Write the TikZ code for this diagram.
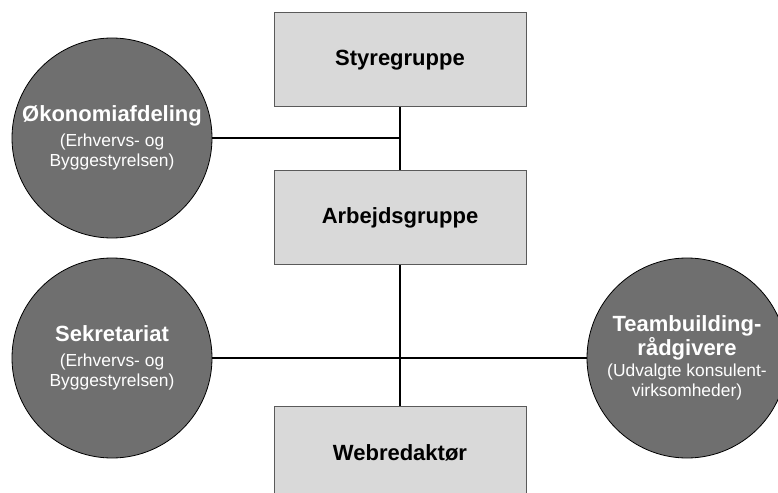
\documentclass[tikz,border=0pt]{standalone}
\usepackage{fontspec}
\setmainfont{Liberation Sans}
\definecolor{boxfill}{RGB}{217,217,217}
\definecolor{boxedge}{RGB}{90,90,90}
\definecolor{unitfill}{RGB}{111,111,111}
\newcommand{\unittitle}[1]{{\fontsize{22}{25}\selectfont\bfseries #1}}
\begin{document}
\begin{tikzpicture}[x=1pt,y=-1pt,
  groupbox/.style={draw=boxedge,line width=1pt,fill=boxfill,minimum width=252pt,minimum height=94pt,
    inner sep=0pt,font=\fontsize{22}{25}\selectfont\bfseries},
  unit/.style={circle,draw=black,line width=0.8pt,fill=unitfill,minimum size=200pt,inner sep=0pt,
    text=white,align=center,font=\fontsize{17.4}{20}\selectfont},
  mainline/.style={line width=2.4pt},
  sideline/.style={line width=1.4pt}]
\useasboundingbox (0,0) rectangle (778,492);
\fill[white] (0,0) rectangle (778,492);

% management boxes
\node[groupbox] (styre) at (400,60) {Styregruppe};
\node[groupbox] (arbejd) at (400,217.5) {Arbejdsgruppe};
\node[groupbox] (web) at (400,453) {Webredaktør};

% supporting units
\node[unit] (okonomi) at (112,138)
  {\unittitle{Økonomiafdeling}\\[5pt](Erhvervs- og\\Byggestyrelsen)};
\node[unit] (sekr) at (112,358)
  {\unittitle{Sekretariat}\\[5pt](Erhvervs- og\\Byggestyrelsen)};
\node[unit] (team) at (687,358)
  {\unittitle{Teambuilding-}\\\unittitle{rådgivere}\\[1pt](Udvalgte konsulent-\\virksomheder)};

% connectors
\draw[mainline] (styre.south) -- (arbejd.north);
\draw[mainline] (arbejd.south) -- (web.north);
\coordinate (ojoin) at (styre.south |- okonomi.east);
\draw[sideline] (okonomi.east) -- (ojoin);
\draw[sideline] (sekr.east) -- (team.west);
\end{tikzpicture}
\end{document}
